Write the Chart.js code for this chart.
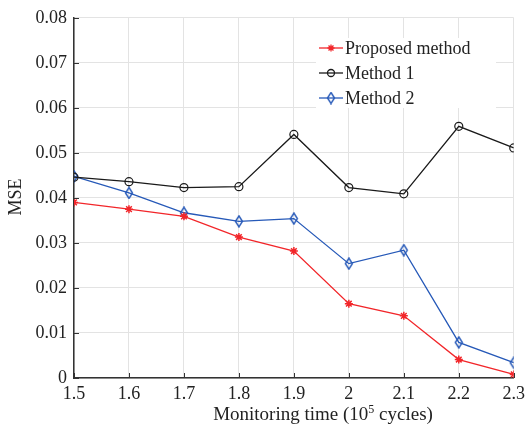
<!DOCTYPE html>
<html>
<head>
<meta charset="utf-8">
<script src="https://cdn.jsdelivr.net/npm/chart.js@4"></script>
<style>
  html, body { margin: 0; padding: 0; background: #fff; }
  canvas { display: block; }
</style>
</head>
<body>
<canvas id="mseChart" width="530" height="430"></canvas>
<script>
const times = [1.5, 1.6, 1.7, 1.8, 1.9, 2.0, 2.1, 2.2, 2.3];
const proposed = [0.0390, 0.0375, 0.0359, 0.0313, 0.0282, 0.0165, 0.0138, 0.0041, 0.0008];
const method1 = [0.0446, 0.0436, 0.0423, 0.0425, 0.0541, 0.0423, 0.0409, 0.0559, 0.0511];
const method2 = [0.0448, 0.0411, 0.0367, 0.0348, 0.0354, 0.0254, 0.0284, 0.0079, 0.0034];
const seriesNames = ['Proposed method', 'Method 1', 'Method 2'];

const FONT = '"Liberation Serif", "Times New Roman", serif';
const TEXT = '#222';

// tall open diamond marker
function diamond(color) {
    const c = document.createElement('canvas');
    c.width = 10; c.height = 13;
    const g = c.getContext('2d');
    g.strokeStyle = color;
    g.lineWidth = 1.4;
    g.beginPath();
    g.moveTo(5, 1); g.lineTo(8.5, 6.5); g.lineTo(5, 12); g.lineTo(1.5, 6.5);
    g.closePath();
    g.stroke();
    return c;
}

const pts = arr => arr.map((v, i) => ({ x: times[i], y: v }));

const RED = '#f2262a', BLACK = '#1a1a1a', BLUE = '#2659b8';

// legend box inside the plot, white background, no border
const legendBox = {
    id: 'legendBox',
    afterDatasetsDraw(chart) {
        const ctx = chart.ctx;
        const x0 = 316, y0 = 38, w = 180, h = 70;
        ctx.save();
        ctx.fillStyle = '#fff';
        ctx.fillRect(x0, y0, w, h);
        ctx.font = '18px ' + FONT;
        ctx.textBaseline = 'middle';
        chart.data.datasets.forEach((ds, i) => {
            const y = 48 + i * 25;
            ctx.strokeStyle = ds.borderColor;
            ctx.lineWidth = 1.3;
            ctx.beginPath();
            ctx.moveTo(319, y); ctx.lineTo(343, y);
            ctx.stroke();
            if (ds.pointStyle instanceof HTMLCanvasElement) {
                ctx.drawImage(ds.pointStyle, 331 - 5, y - 6.5);
            } else {
                ctx.fillStyle = ds.backgroundColor;
                Chart.helpers.drawPoint(ctx, {
                    pointStyle: ds.pointStyle, radius: 3.5,
                    borderWidth: ds.pointBorderWidth || 1.2, rotation: 0
                }, 331, y);
            }
            ctx.fillStyle = TEXT;
            ctx.fillText(ds.label, 345, y + 1);
        });
        ctx.restore();
    }
};

// short inward tick marks plus both axis titles
const axisExtras = {
    id: 'axisExtras',
    afterDraw(chart) {
        const ctx = chart.ctx;
        const { x, y } = chart.scales;
        const a = chart.chartArea;
        ctx.save();
        ctx.strokeStyle = '#333';
        ctx.lineWidth = 1;
        y.ticks.forEach(t => {
            const py = Math.round(y.getPixelForValue(t.value)) + 0.5;
            ctx.beginPath(); ctx.moveTo(a.left, py); ctx.lineTo(a.left + 5, py); ctx.stroke();
        });
        x.ticks.forEach(t => {
            const px = Math.round(x.getPixelForValue(t.value)) + 0.5;
            ctx.beginPath(); ctx.moveTo(px, a.bottom); ctx.lineTo(px, a.bottom - 5); ctx.stroke();
        });

        // x title with superscript exponent
        ctx.fillStyle = TEXT;
        ctx.textBaseline = 'alphabetic';
        const big = '19px ' + FONT, small = '12px ' + FONT;
        const p1 = 'Monitoring time (10', p2 = '5', p3 = ' cycles)';
        ctx.font = big;
        const w1 = ctx.measureText(p1).width, w3 = ctx.measureText(p3).width;
        ctx.font = small;
        const w2 = ctx.measureText(p2).width;
        let tx = 323 - (w1 + w2 + w3) / 2;
        const base = 420;
        ctx.font = big; ctx.fillText(p1, tx, base); tx += w1;
        ctx.font = small; ctx.fillText(p2, tx, base - 7); tx += w2;
        ctx.font = big; ctx.fillText(p3, tx, base);

        // y title
        ctx.translate(16, 197);
        ctx.rotate(-Math.PI / 2);
        ctx.font = '18px ' + FONT;
        ctx.textAlign = 'center';
        ctx.textBaseline = 'middle';
        ctx.fillText('MSE', 0, 0);
        ctx.restore();
    }
};

new Chart(document.getElementById('mseChart'), {
    type: 'line',
    data: {
        datasets: [
            {
                label: seriesNames[0],
                data: pts(proposed),
                borderColor: RED,
                backgroundColor: RED,
                pointStyle: 'star',
                pointRadius: 4,
                pointBorderWidth: 1.5,
                borderWidth: 1.3
            },
            {
                label: seriesNames[1],
                data: pts(method1),
                borderColor: BLACK,
                backgroundColor: 'rgba(0,0,0,0)',
                pointStyle: 'circle',
                pointRadius: 4,
                pointBorderWidth: 1.2,
                borderWidth: 1.3
            },
            {
                label: seriesNames[2],
                data: pts(method2),
                borderColor: BLUE,
                backgroundColor: BLUE,
                pointStyle: diamond(BLUE),
                borderWidth: 1.3
            }
        ]
    },
    options: {
        responsive: false,
        animation: false,
        layout: { padding: { left: 0, right: 15, top: 15, bottom: 0 } },
        plugins: {
            legend: { display: false },
            tooltip: { enabled: false }
        },
        scales: {
            x: {
                type: 'linear',
                min: 1.5,
                max: 2.3,
                ticks: {
                    stepSize: 0.1,
                    color: TEXT,
                    font: { family: FONT, size: 18 },
                    padding: 5,
                    maxRotation: 0,
                    callback: v => String(Number(v.toFixed(1)))
                },
                grid: { color: '#e3e3e3', lineWidth: 1, tickLength: 0 },
                border: { color: '#333', width: 1.5 },
                afterFit: s => { s.height = 52; }
            },
            y: {
                min: 0,
                max: 0.08,
                ticks: {
                    stepSize: 0.01,
                    color: TEXT,
                    font: { family: FONT, size: 18 },
                    padding: 7,
                    callback: v => (v === 0 ? '0' : v.toFixed(2))
                },
                grid: { color: '#e3e3e3', lineWidth: 1, tickLength: 0 },
                border: { color: '#333', width: 1.5 },
                afterFit: s => { s.width = 74; }
            }
        }
    },
    plugins: [legendBox, axisExtras]
});
</script>
</body>
</html>
